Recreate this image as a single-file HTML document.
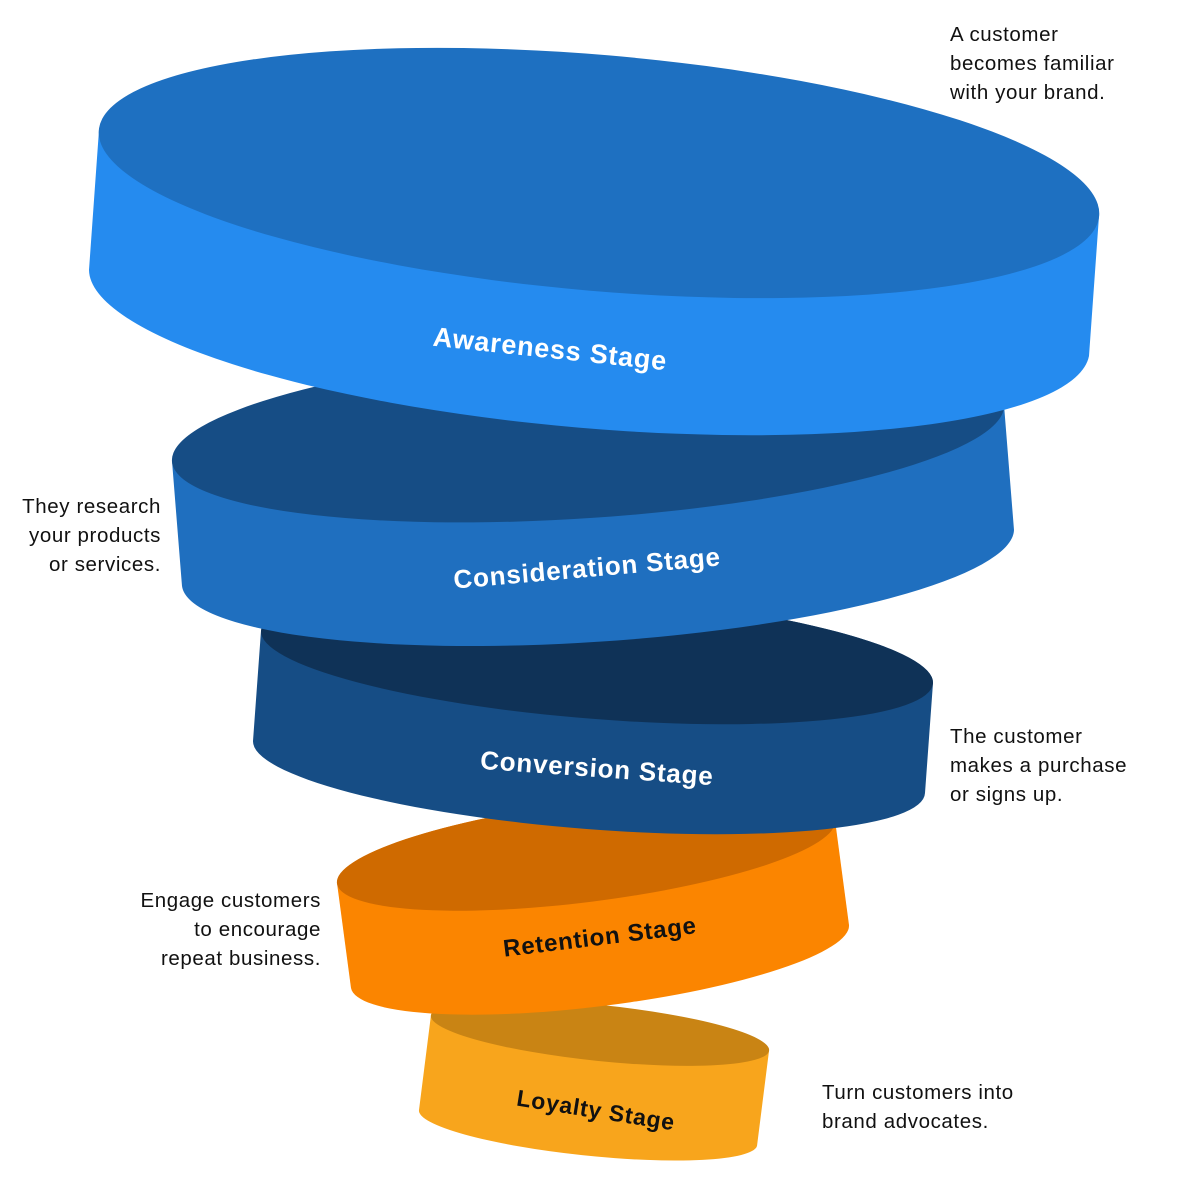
<!DOCTYPE html>
<html><head><meta charset="utf-8"><style>
html,body{margin:0;padding:0;background:#fff;}
svg{display:block}
.d{font-family:"Liberation Sans",sans-serif;font-size:20.5px;fill:#111;letter-spacing:0.6px;}
.l{font-family:"Liberation Sans",sans-serif;font-weight:bold;font-size:26px;letter-spacing:0.8px;}
</style></head><body>
<svg width="1200" height="1200" viewBox="0 0 1200 1200">
<!-- Loyalty -->
<path d="M431,1015 L419,1110 A170 28 5.9 0 0 757,1146 L769,1051 A170 28 5.9 0 0 431,1015 Z" fill="#f8a51c"/>
<ellipse cx="600" cy="1033" rx="170" ry="28" transform="rotate(5.9 600 1033)" fill="#c98414"/>
<text class="l" x="596" y="1118" text-anchor="middle" fill="#111" transform="rotate(9 596 1110)" style="font-size:23px">Loyalty Stage</text>
<!-- Retention -->
<path d="M337,883 L351,988 A251 50 -7.2 0 0 849,925 L835,820 A251 50 -7.2 0 0 337,883 Z" fill="#fb8500"/>
<ellipse cx="586" cy="852" rx="251" ry="50" transform="rotate(-7.2 586 852)" fill="#cf6a00"/>
<text class="l" x="600" y="945" text-anchor="middle" fill="#111" transform="rotate(-7 600 938)" style="font-size:24px">Retention Stage</text>
<!-- Conversion -->
<path d="M261,631 L253,741 A337 62 4.5 0 0 925,793 L933,683 A337 62 4.5 0 0 261,631 Z" fill="#164d85"/>
<ellipse cx="597" cy="657" rx="337" ry="62" transform="rotate(4.5 597 657)" fill="#0f3257"/>
<text class="l" x="597" y="777" text-anchor="middle" fill="#fff" transform="rotate(4 597 768)" style="font-size:26px">Conversion Stage</text>
<!-- Consideration -->
<path d="M172,461 L182,586 A417 85 -3.9 0 0 1014,530 L1004,405 A417 85 -3.9 0 0 172,461 Z" fill="#1f6fbf"/>
<ellipse cx="588" cy="433" rx="417" ry="85" transform="rotate(-3.9 588 433)" fill="#164d85"/>
<text class="l" x="587" y="577" text-anchor="middle" fill="#fff" transform="rotate(-5 587 568)" style="font-size:26px">Consideration Stage</text>
<!-- Awareness -->
<path d="M99,130 L89,270 A502 118 4.9 0 0 1089,356 L1099,216 A502 118 4.9 0 0 99,130 Z" fill="#258bef"/>
<ellipse cx="599" cy="173" rx="502" ry="118" transform="rotate(4.9 599 173)" fill="#1e70c1"/>
<text class="l" x="550" y="358" text-anchor="middle" fill="#fff" transform="rotate(6 550 350)" style="font-size:27px">Awareness Stage</text>
<!-- descriptions -->
<text class="d" x="950" y="41">A customer</text>
<text class="d" x="950" y="70">becomes familiar</text>
<text class="d" x="950" y="99">with your brand.</text>
<text class="d" x="161" y="513" text-anchor="end">They research</text>
<text class="d" x="161" y="542" text-anchor="end">your products</text>
<text class="d" x="161" y="571" text-anchor="end">or services.</text>
<text class="d" x="950" y="743">The customer</text>
<text class="d" x="950" y="772">makes a purchase</text>
<text class="d" x="950" y="801">or signs up.</text>
<text class="d" x="321" y="907" text-anchor="end">Engage customers</text>
<text class="d" x="321" y="936" text-anchor="end">to encourage</text>
<text class="d" x="321" y="965" text-anchor="end">repeat business.</text>
<text class="d" x="822" y="1099">Turn customers into</text>
<text class="d" x="822" y="1128">brand advocates.</text>
</svg>
</body></html>
